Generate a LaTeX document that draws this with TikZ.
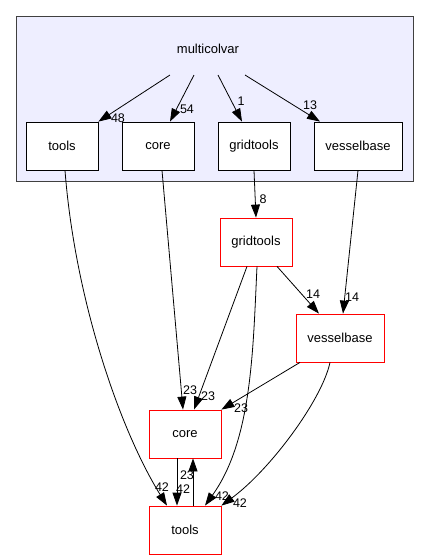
\documentclass[tikz,border=0pt]{standalone}
\usepackage{fontspec}
\setmainfont{Liberation Sans}
\usetikzlibrary{arrows.meta}
\begin{document}
\begin{tikzpicture}[x=1pt,y=-1pt,
  dirbox/.style={draw=black,fill=white,line width=0.8pt,minimum width=#1,minimum height=48pt,inner sep=0pt,font=\fontsize{13}{15}\selectfont},
  redbox/.style={draw=red,fill=white,line width=0.8pt,minimum width=#1,minimum height=48pt,inner sep=0pt,font=\fontsize{13}{15}\selectfont},
  edge/.style={draw=black,line width=0.8pt,-{Triangle[length=13pt,width=9pt]}},
  elab/.style={font=\fontsize{12.5}{14}\selectfont,inner sep=0pt}]
\useasboundingbox (0,0) rectangle (429,560);
\fill[fill={rgb,255:red,238;green,238;blue,255},draw={rgb,255:red,64;green,64;blue,64},line width=0.9pt] (16,16) rectangle (413,181);
\node[font=\fontsize{13}{15}\selectfont] (mcv) at (208,49) {multicolvar};
\coordinate (s1) at (170,75);
\coordinate (s2) at (194,75);
\coordinate (s3) at (218,75);
\coordinate (s4) at (245,75);
\node[dirbox=72pt] (itools) at (62,146) {tools};
\node[dirbox=72pt] (icore) at (158,146) {core};
\node[dirbox=72pt] (igrid) at (254,146) {gridtools};
\node[dirbox=88pt] (ivessel) at (358,146) {vesselbase};
\node[redbox=72pt] (grid) at (256,242) {gridtools};
\node[redbox=88pt] (vessel) at (340,338) {vesselbase};
\node[redbox=72pt] (core) at (185,434) {core};
\node[redbox=72pt] (tools) at (185,530) {tools};
% edges inside cluster
\draw[edge] (s1) -- (itools.north east);
\node[elab] at (118,118) {48};
\draw[edge] (s2) -- ([xshift=12pt]icore.north);
\node[elab] at (187,109) {54};
\draw[edge] (s3) -- ([xshift=-12pt]igrid.north);
\node[elab] at (241,101) {1};
\draw[edge] (s4) -- ([xshift=-38pt]ivessel.north);
\node[elab] at (310,105) {13};
% other edges
\draw[edge] (igrid.south) -- (grid.north);
\node[elab] at (263,199) {8};
\draw[edge] (ivessel.south) -- ([xshift=3pt]vessel.north);
\node[elab] at (352,297) {14};
\draw[edge] ([xshift=21pt]grid.south) -- ([xshift=-21pt]vessel.north);
\node[elab] at (313,294) {14};
\draw[edge] ([xshift=-9pt]grid.south) -- ([xshift=9pt]core.north);
\node[elab] at (208,396) {23};
\draw[edge] ([xshift=1pt]grid.south) .. controls (253,350) and (252,440) .. ([xshift=20pt]tools.north);
\node[elab] at (222,496) {42};
\draw[edge] ([xshift=-40pt]vessel.south) -- (core.north east);
\node[elab] at (241,408) {23};
\draw[edge] ([xshift=-10pt]vessel.south) .. controls (322,400) and (270,470) .. (tools.north east);
\node[elab] at (240,503) {42};
\draw[edge] ([xshift=3pt]itools.south) .. controls (75,300) and (120,430) .. ([xshift=-18pt]tools.north);
\node[elab] at (162,487) {42};
\draw[edge] ([xshift=4pt]icore.south) -- ([xshift=-2pt]core.north);
\node[elab] at (190,390) {23};
\draw[edge] ([xshift=-8pt]core.south) -- ([xshift=-8pt]tools.north);
\node[elab] at (183,489) {42};
\draw[edge] ([xshift=8pt]tools.north) -- ([xshift=8pt]core.south);
\node[elab] at (187,475) {23};
\end{tikzpicture}
\end{document}
